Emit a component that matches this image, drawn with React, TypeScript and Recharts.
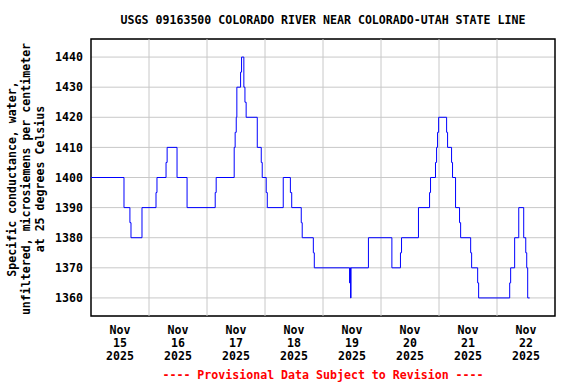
import React from "react";
import { LineChart, Line, XAxis, YAxis, CartesianGrid, ReferenceLine, ReferenceArea } from "recharts";

// hours since Nov 15 2025 00:00 and specific conductance (µS/cm at 25 °C)
const hours = [
  0, 13.65, 16.1, 16.55, 21.1, 26.9, 27.3, 31.05, 31.5, 35.6, 39.75, 51.4, 51.8,
  59.25, 59.65, 60.1, 60.35, 61.9, 62.3, 63.25, 63.7, 64.2, 68.8, 70.45, 70.85,
  72.5, 72.95, 79.55, 82.5, 83.05, 87.0, 87.4, 92.0, 92.4, 107.0, 107.2, 107.4,
  107.6, 114.8, 124.5, 128.05, 128.5, 135.5, 140.1, 140.5, 142.55, 143.0, 143.4,
  143.85, 147.15, 147.55, 149.2, 149.6, 150.85, 152.5, 152.95, 157.1, 157.5,
  160.0, 160.4, 173.25, 173.65, 175.3, 177.0, 179.05, 179.9, 180.3, 180.7, 181.5,
];
const conductance = [
  1400, 1390, 1385, 1380, 1390, 1395, 1400, 1405, 1410, 1400, 1390, 1395, 1400,
  1410, 1415, 1420, 1430, 1435, 1440, 1430, 1425, 1420, 1410, 1405, 1400,
  1395, 1390, 1400, 1395, 1390, 1385, 1380, 1375, 1370, 1365, 1370, 1360,
  1370, 1380, 1370, 1375, 1380, 1390, 1395, 1400, 1405, 1410, 1415,
  1420, 1415, 1410, 1405, 1400, 1390, 1385, 1380, 1375, 1370,
  1365, 1360, 1365, 1370, 1380, 1390, 1380, 1375, 1370, 1360, 1360,
];

const dayTickHours = [12, 36, 60, 84, 108, 132, 156, 180];
const dayLabels = ["15", "16", "17", "18", "19", "20", "21", "22"];
const monthLabel = "Nov";
const yearLabel = "2025";
const midnightHours = [24, 48, 72, 96, 120, 144, 168];
const yTicks = [1360, 1370, 1380, 1390, 1400, 1410, 1420, 1430, 1440];
const xDomain = [0, 192];
const yDomain = [1354, 1446];

const title = "USGS 09163500 COLORADO RIVER NEAR COLORADO-UTAH STATE LINE";
const yLabelLines = [
  "Specific conductance, water,",
  "unfiltered, microsiemens per centimeter",
  "at 25 degrees Celsius",
];
const footer = "---- Provisional Data Subject to Revision ----";

const data = hours.map((h, i) => ({ h, v: conductance[i] }));

const FONT = "'DejaVu Sans Mono', 'Liberation Mono', monospace";

const XTick = (props: any) => {
  const { x, y, payload } = props;
  const idx = dayTickHours.indexOf(payload.value);
  return (
    <text x={x} textAnchor="middle" fontFamily={FONT} fontWeight="bold" fontSize={11.6} fill="#000">
      <tspan x={x} y={y + 10}>{monthLabel}</tspan>
      <tspan x={x} y={y + 23}>{dayLabels[idx]}</tspan>
      <tspan x={x} y={y + 36}>{yearLabel}</tspan>
    </text>
  );
};

export default function App() {
  return (
    <div style={{ position: "absolute", left: 0, top: 0, width: 576, height: 384, background: "#fff" }}>
      <div
        style={{
          position: "absolute", left: 91, width: 464, top: 13, textAlign: "center",
          fontFamily: FONT, fontWeight: "bold", fontSize: 11.6, lineHeight: "14px", whiteSpace: "pre",
        }}
      >
        {title}
      </div>
      <div
        style={{
          position: "absolute", left: 26, top: 179, transform: "translate(-50%,-50%) rotate(-90deg)",
          textAlign: "center", fontFamily: FONT, fontWeight: "bold", fontSize: 11.6, lineHeight: "14px",
          whiteSpace: "pre",
        }}
      >
        {yLabelLines.join("\n")}
      </div>
      <div
        style={{
          position: "absolute", left: 91, width: 464, top: 368, textAlign: "center", color: "#ff0000",
          fontFamily: FONT, fontWeight: "bold", fontSize: 11.6, lineHeight: "14px", whiteSpace: "pre",
        }}
      >
        {footer}
      </div>
      <LineChart width={576} height={384} data={data} margin={{ top: 39, right: 21, bottom: 0, left: 0 }}>
        <CartesianGrid vertical={false} stroke="#c8c8c8" strokeWidth={1} />
        {midnightHours.map((m) => (
          <ReferenceLine key={m} x={m} stroke="#c8c8c8" strokeWidth={1} />
        ))}
        <XAxis
          type="number"
          dataKey="h"
          domain={xDomain}
          ticks={dayTickHours}
          interval={0}
          axisLine={false}
          tickLine={false}
          height={68}
          tick={<XTick />}
          allowDataOverflow
        />
        <YAxis
          type="number"
          domain={yDomain}
          ticks={yTicks}
          interval={0}
          width={91}
          axisLine={false}
          tickLine={false}
          tick={{ fontFamily: FONT, fontWeight: "bold", fontSize: 11.6, fill: "#000" }}
          allowDataOverflow
        />
        <Line
          type="stepAfter"
          dataKey="v"
          stroke="#0000ff"
          strokeWidth={1}
          dot={false}
          activeDot={false}
          isAnimationActive={false}
        />
        <ReferenceArea x1={0} x2={192} y1={1354} y2={1446} fill="none" stroke="#000" strokeWidth={1.5} fillOpacity={0} />
      </LineChart>
    </div>
  );
}
